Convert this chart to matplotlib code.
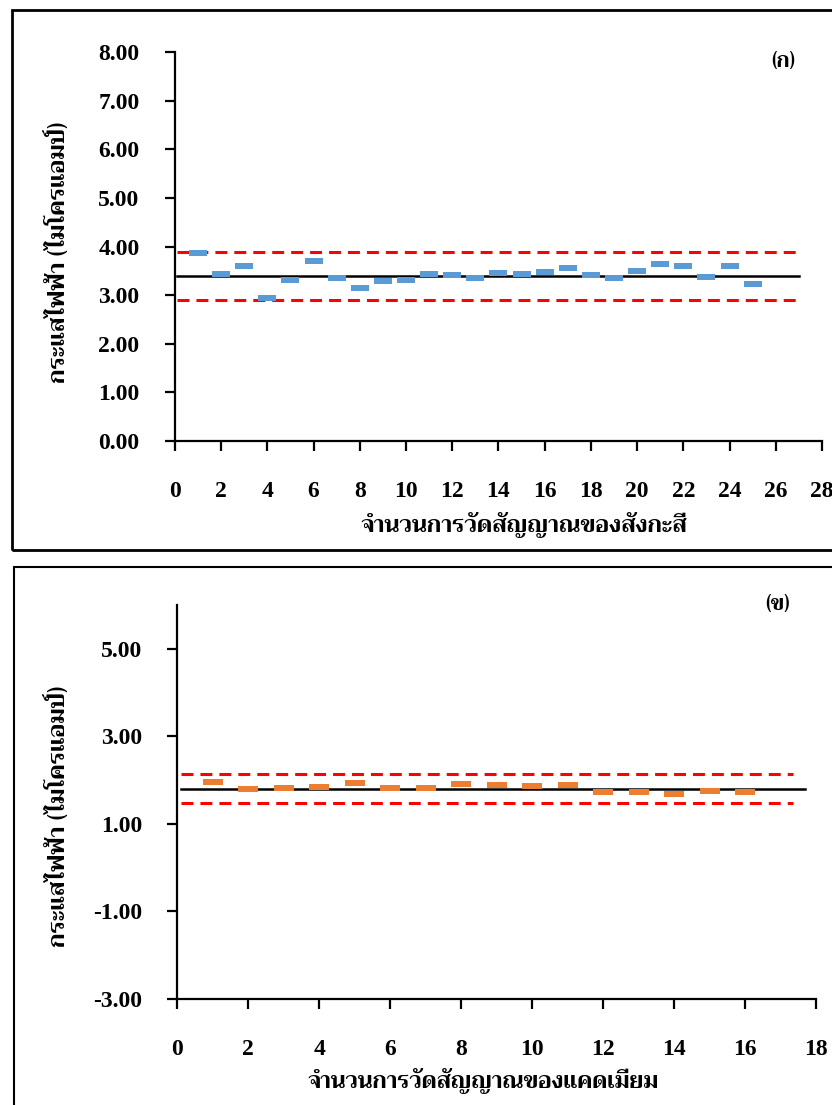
import matplotlib
matplotlib.use("Agg")
import matplotlib.pyplot as plt
from matplotlib import font_manager as fm
from matplotlib.ft2font import FT2Font
from matplotlib.patches import Rectangle

# ---- data ----
zinc_x = list(range(1, 26))
zinc_y = [3.87, 3.44, 3.60, 2.95, 3.31, 3.70, 3.35, 3.15, 3.30, 3.31,
          3.44, 3.42, 3.35, 3.45, 3.44, 3.48, 3.55, 3.41, 3.36, 3.50,
          3.64, 3.60, 3.38, 3.60, 3.22]
zinc_mean, zinc_ucl, zinc_lcl = 3.39, 3.89, 2.91
zinc_span = [0.1, 27.0]

cd_x = list(range(1, 17))
cd_y = [1.95, 1.79, 1.83, 1.84, 1.93, 1.83, 1.83, 1.92, 1.88, 1.86,
        1.89, 1.74, 1.72, 1.69, 1.75, 1.72]
cd_mean, cd_ucl, cd_lcl = 1.80, 2.13, 1.47
cd_span = [0.1, 17.7]
cd_dash_span = [0.1, 17.35]

zinc_yticks = [0, 1, 2, 3, 4, 5, 6, 7, 8]
zinc_xticks = list(range(0, 29, 2))
cd_yticks = [-3, -1, 1, 3, 5]
cd_xticks = list(range(0, 19, 2))

ylabel = "กระแสไฟฟ้า (ไมโครแอมป์)"
xlabel_zinc = "จำนวนการวัดสัญญาณของสังกะสี"
xlabel_cd = "จำนวนการวัดสัญญาณของแคดเมียม"

# ---- find a font that has Thai glyphs ----
thai_font = None
for f in fm.fontManager.ttflist:
    try:
        if 0x0E01 in FT2Font(f.fname).get_charmap():
            if thai_font is None or f.weight in ("bold", 700):
                thai_font = f.name
    except Exception:
        pass
thai_family = [thai_font, "DejaVu Sans"] if thai_font else ["DejaVu Sans"]

num_family = ["Liberation Serif", "DejaVu Serif"]

fig = plt.figure(figsize=(8.32, 11.05), dpi=100)

dash_marker = [(-1, -0.27), (1, -0.27), (1, 0.27), (-1, 0.27), (-1, -0.27)]


def style_axes(ax, xticks, yticks, xlim, ylim):
    ax.set_xlim(*xlim)
    ax.set_ylim(*ylim)
    ax.set_xticks(xticks)
    ax.set_yticks(yticks)
    ax.set_yticklabels([f"{v:.2f}" for v in yticks])
    for s in ["top", "right"]:
        ax.spines[s].set_visible(False)
    for s in ["left", "bottom"]:
        ax.spines[s].set_linewidth(1.6)
    ax.tick_params(axis="x", direction="out", length=7.5, width=1.6, pad=21)
    ax.tick_params(axis="y", direction="out", length=7.5, width=1.6, pad=18)
    for lab in ax.get_xticklabels() + ax.get_yticklabels():
        lab.set_fontfamily(num_family)
        lab.set_fontweight("bold")
        lab.set_fontsize(17)


# ---- panel (ก) ----
ax1 = fig.add_axes([0.2103, 0.6009, 0.7776, 0.352])
ax1.plot(zinc_span, [zinc_ucl, zinc_ucl], color="#FF0000", lw=2.2, dashes=(3.9, 2.3))
ax1.plot(zinc_span, [zinc_lcl, zinc_lcl], color="#FF0000", lw=2.2, dashes=(3.9, 2.3))
ax1.plot(zinc_span, [zinc_mean, zinc_mean], color="black", lw=1.8)
ax1.plot(zinc_x, zinc_y, ls="none", marker=dash_marker, markersize=13.5,
         color="#5B9BD5", markeredgewidth=0)
style_axes(ax1, zinc_xticks, zinc_yticks, (0, 28), (0, 8))

# ---- panel (ข) ----
ax2 = fig.add_axes([0.2131, 0.0959, 0.7677, 0.3566])
ax2.plot(cd_dash_span, [cd_ucl, cd_ucl], color="#FF0000", lw=2.2, dashes=(3.9, 2.3))
ax2.plot(cd_dash_span, [cd_lcl, cd_lcl], color="#FF0000", lw=2.2, dashes=(3.9, 2.3))
ax2.plot(cd_span, [cd_mean, cd_mean], color="black", lw=1.8)
ax2.plot(cd_x, cd_y, ls="none", marker=dash_marker, markersize=14.5,
         color="#ED7D31", markeredgewidth=0)
style_axes(ax2, cd_xticks, cd_yticks, (0, 18), (-3, 6))

# ---- axis titles and panel labels ----
W, H = 832, 1105
fig.text(58 / W, 1 - 252 / H, ylabel, rotation=90, ha="center", va="center",
         fontsize=17, fontweight="bold", family=thai_family)
fig.text(58 / W, 1 - 816 / H, ylabel, rotation=90, ha="center", va="center",
         fontsize=17, fontweight="bold", family=thai_family)
fig.text(524 / W, 1 - 525 / H, xlabel_zinc, ha="center", va="center",
         fontsize=16.8, fontweight="bold", family=thai_family)
fig.text(483 / W, 1 - 1081 / H, xlabel_cd, ha="center", va="center",
         fontsize=16.5, fontweight="bold", family=thai_family)
fig.text(783 / W, 1 - 62 / H, "(ก)", ha="center", va="center",
         fontsize=15, fontweight="bold", family=thai_family)
fig.text(778 / W, 1 - 605 / H, "(ข)", ha="center", va="center",
         fontsize=15, fontweight="bold", family=thai_family)

# ---- panel frames ----
fig.patches.append(Rectangle((12 / W, 1 - 550 / H), 840 / W, 540 / H,
                             transform=fig.transFigure, fill=False,
                             edgecolor="black", lw=2.0))
fig.patches.append(Rectangle((14 / W, -10 / H), 840 / W, (1105 - 567 + 10) / H,
                             transform=fig.transFigure, fill=False,
                             edgecolor="black", lw=1.5))

fig.savefig("out.png", dpi=100)
